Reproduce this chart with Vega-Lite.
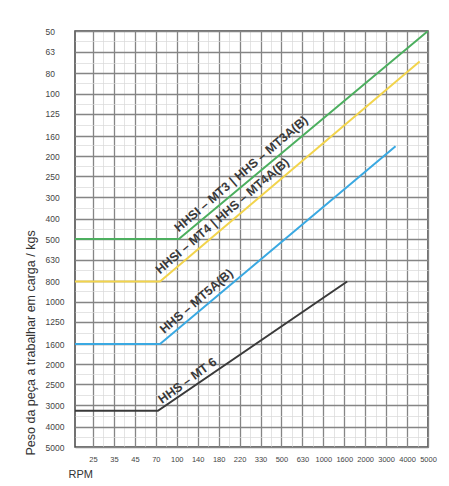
{
  "$schema": "https://vega.github.io/schema/vega-lite/v6.json",
  "width": 353,
  "height": 416,
  "autosize": {"type": "none"},
  "padding": {"left": 75, "top": 31, "right": 21, "bottom": 39},
  "background": "white",
  "config": {
    "view": {"stroke": "#444", "strokeWidth": 1.5},
    "font": "Liberation Sans"
  },
  "datasets": {
    "lines": [
      {"series": "MT3", "pos": -0.86, "kg": 500},
      {"series": "MT3", "pos": 4.1, "kg": 500},
      {"series": "MT3", "pos": 16, "kg": 50},
      {"series": "MT4", "pos": -0.86, "kg": 800},
      {"series": "MT4", "pos": 3.2, "kg": 800},
      {"series": "MT4", "pos": 15.6, "kg": 70},
      {"series": "MT5", "pos": -0.86, "kg": 1600},
      {"series": "MT5", "pos": 3.2, "kg": 1600},
      {"series": "MT5", "pos": 14.45, "kg": 179},
      {"series": "MT6", "pos": -0.86, "kg": 3350},
      {"series": "MT6", "pos": 3.1, "kg": 3350},
      {"series": "MT6", "pos": 12.14, "kg": 800}
    ],
    "labels": [
      {"series": "MT3", "label": "HHSI – MT3  |  HHS – MT3A(B)", "pos": 4.1, "kg": 465},
      {"series": "MT4", "label": "HHSI – MT4  |  HHS – MT4A(B)", "pos": 3.2, "kg": 740},
      {"series": "MT5", "label": "HHS – MT5A(B)", "pos": 3.4, "kg": 1432},
      {"series": "MT6", "label": "HHS – MT 6", "pos": 3.3, "kg": 3106}
    ]
  },
  "encoding": {
    "x": {
      "field": "pos",
      "type": "quantitative",
      "scale": {"domain": [-0.86, 16], "nice": false, "zero": false},
      "axis": {
        "values": [0, 0.5, 1, 1.5, 2, 2.5, 3, 3.5, 4, 4.5, 5, 5.5, 6, 6.5, 7, 7.5, 8, 8.5, 9, 9.5, 10, 10.5, 11, 11.5, 12, 12.5, 13, 13.5, 14, 14.5, 15, 15.5, 16],
        "grid": true,
        "gridColor": {"condition": {"test": "datum.value % 1 !== 0", "value": "#d9d9d9"}, "value": "#858585"},
        "gridWidth": {"condition": {"test": "datum.value % 1 !== 0", "value": 0.7}, "value": 1.3},
        "ticks": false,
        "domain": false,
        "labelExpr": "datum.value % 1 !== 0 ? '' : ['25','35','45','70','100','140','180','220','330','500','630','1000','1600','2000','3000','4000','5000'][datum.value]",
        "labelFlush": false,
        "labelOverlap": false,
        "labelFontSize": 7.5,
        "labelColor": "#444",
        "labelPadding": 8,
        "title": "RPM",
        "titleAnchor": "start",
        "titleAlign": "left",
        "titleBaseline": "alphabetic",
        "titleX": -7,
        "titleY": 30,
        "titleFontSize": 11,
        "titleFontWeight": "normal",
        "titleColor": "#333"
      }
    },
    "y": {
      "field": "kg",
      "type": "quantitative",
      "scale": {"type": "log", "domain": [50, 5000], "reverse": true, "nice": false, "zero": false},
      "axis": {
        "values": [50, 56, 63, 71, 80, 89, 100, 112, 125, 141, 160, 177, 200, 223, 250, 281, 315, 354, 400, 446, 500, 561, 630, 706, 800, 889, 1000, 1119, 1250, 1409, 1600, 1774, 2000, 2233, 2500, 2811, 3150, 3539, 4000, 4456, 5000],
        "grid": true,
        "gridColor": {"condition": {"test": "round(log(datum.value/50)/LN10*20) % 2 === 1", "value": "#d9d9d9"}, "value": "#858585"},
        "gridWidth": {"condition": {"test": "round(log(datum.value/50)/LN10*20) % 2 === 1", "value": 0.7}, "value": 1.3},
        "ticks": false,
        "domain": false,
        "labelExpr": "round(log(datum.value/50)/LN10*20) % 2 === 1 ? '' : datum.value === 315 ? '300' : datum.value === 3150 ? '3000' : format(datum.value, 'd')",
        "labelFlush": false,
        "labelOverlap": false,
        "labelAlign": "left",
        "labelBaseline": "middle",
        "labelPadding": 30,
        "labelFontSize": 8.5,
        "labelColor": "#444",
        "title": "Peso da peça a trabalhar em carga / kgs",
        "titleAngle": -90,
        "titleAlign": "left",
        "titleBaseline": "middle",
        "titleX": -45,
        "titleY": 424,
        "titleFontSize": 12.5,
        "titleFontWeight": "normal",
        "titleColor": "#333"
      }
    }
  },
  "layer": [
    {
      "data": {"name": "lines"},
      "mark": {"type": "line", "strokeWidth": 2, "clip": true},
      "encoding": {
        "color": {
          "field": "series",
          "type": "nominal",
          "scale": {"domain": ["MT3", "MT4", "MT5", "MT6"], "range": ["#4caf5f", "#f2d44c", "#3aa9e2", "#3a3a3a"]},
          "legend": null
        }
      }
    },
    {
      "data": {"name": "labels"},
      "mark": {"type": "text", "align": "left", "baseline": "alphabetic", "fontSize": 12.5, "fill": "#3a3a3a", "fontWeight": "bold", "font": "Liberation Sans Narrow, Liberation Sans"},
      "encoding": {
        "text": {"field": "label", "type": "nominal"},
        "angle": {"condition": {"test": "datum.series === 'MT6'", "value": -36}, "value": -40.5}
      }
    }
  ]
}
